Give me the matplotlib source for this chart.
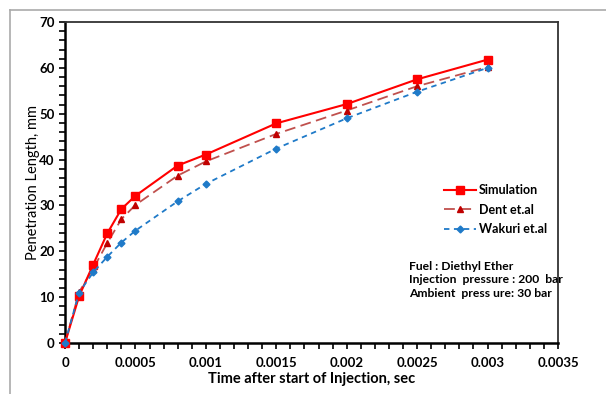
import matplotlib
matplotlib.use('Agg')
import matplotlib.pyplot as plt
from matplotlib.ticker import MultipleLocator, FuncFormatter
from matplotlib.lines import Line2D

# data
time = [0, 0.0001, 0.0002, 0.0003, 0.0004, 0.0005, 0.0008, 0.001, 0.0015, 0.002, 0.0025, 0.003]
simulation = [0, 10.2, 17.1, 23.9, 29.2, 32.1, 38.7, 41.1, 47.9, 52.1, 57.5, 61.8]
dent = [0, 11.1, 16.2, 21.8, 27.0, 30.1, 36.5, 39.6, 45.6, 50.7, 56.0, 60.2]
wakuri = [0, 11.0, 15.4, 18.8, 21.9, 24.5, 30.9, 34.7, 42.4, 49.0, 54.8, 60.0]

plt.rcParams['font.family'] = ['Lato', 'DejaVu Sans']

fig = plt.figure(figsize=(6.06, 3.94), dpi=100)
ax = fig.add_axes([65 / 606, 1 - 343 / 394, (558 - 65) / 606, (343 - 22) / 394])

ax.plot(time, simulation, color='#ff0000', lw=1.5, marker='s', ms=6,
        label='Simulation', zorder=4, clip_on=False)
ax.plot(time, dent, color='#c0504d', lw=1.3, ls=(0, (6, 3)), marker='^', ms=5,
        mfc='#c00000', mec='#c00000', label='Dent et.al', zorder=3, clip_on=False)
ax.plot(time, wakuri, color='#1f7ac8', lw=1.3, ls=(0, (3, 2.5)), marker='D', ms=3.5,
        mfc='#1f7ac8', mec='#1f7ac8', label='Wakuri et.al', zorder=5, clip_on=False)

ax.set_xlim(0, 0.0035)
ax.set_ylim(0, 70)
ax.xaxis.set_major_locator(MultipleLocator(0.0005))
ax.xaxis.set_minor_locator(MultipleLocator(0.0001))
ax.yaxis.set_major_locator(MultipleLocator(10))
ax.yaxis.set_minor_locator(MultipleLocator(2))
ax.xaxis.set_major_formatter(FuncFormatter(lambda v, p: '%g' % round(v, 6)))
ax.tick_params(which='both', direction='out', width=1.2, color='black',
               labelsize=9.5)
ax.tick_params(which='major', length=4)
ax.tick_params(which='minor', length=4)
ax.tick_params(axis='x', pad=6)
for lab in ax.get_xticklabels() + ax.get_yticklabels():
    lab.set_fontweight('bold')

for side in ['left', 'bottom']:
    ax.spines[side].set_linewidth(1.8)
    ax.spines[side].set_color('black')
for side in ['top', 'right']:
    ax.spines[side].set_linewidth(1.3)
    ax.spines[side].set_color('#333333')

ax.set_xlabel('Time after start of Injection, sec', fontsize=10.5, fontweight='bold', labelpad=2)
ax.set_ylabel('Penetration Length, mm', fontsize=10.5, labelpad=-1)

ax.legend(loc='upper left', bbox_to_anchor=(0.745, 0.53), frameon=False,
          prop={'weight': 'bold', 'size': 9}, handlelength=2.6,
          handletextpad=0.2, labelspacing=0.6)

ax.text(0.697, 0.255, 'Fuel : Diethyl Ether\nInjection  pressure : 200  bar\nAmbient  press ure: 30 bar',
        transform=ax.transAxes, fontsize=8.7, fontweight='bold', va='top', ha='left',
        linespacing=1.25)

# outer gray frame (partly outside the canvas)
fig.add_artist(Line2D([10 / 606, 1], [1 - 10 / 394, 1 - 10 / 394], color='#aaaaaa', lw=1.2))
fig.add_artist(Line2D([10 / 606, 10 / 606], [0, 1 - 10 / 394], color='#aaaaaa', lw=1.2))

fig.savefig('out.png', dpi=100)
